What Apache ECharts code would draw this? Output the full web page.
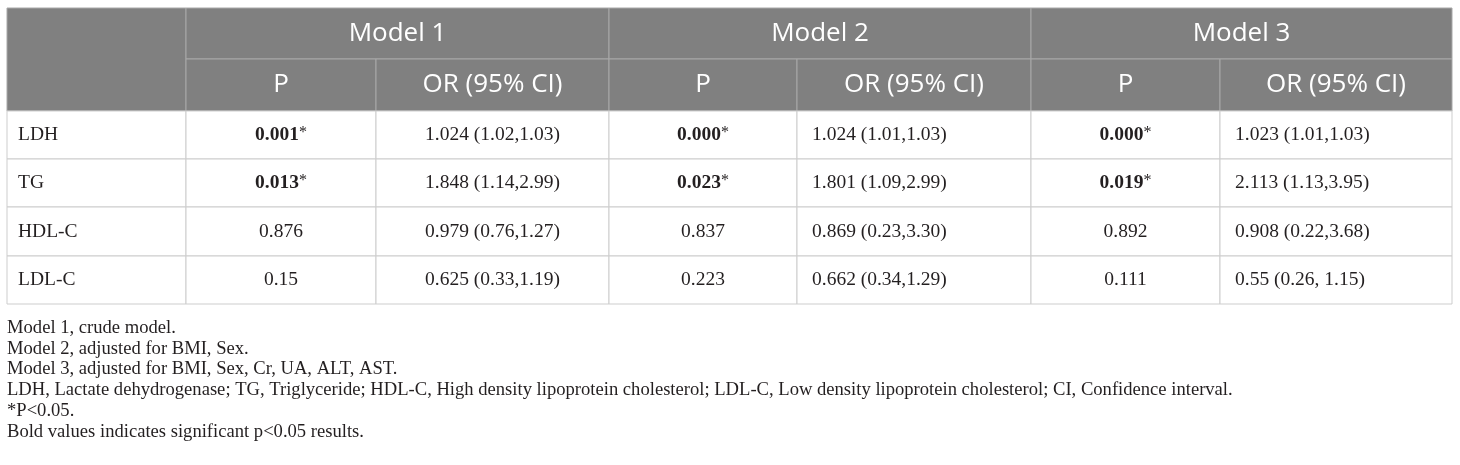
<!DOCTYPE html>
<html>
<head>
<meta charset="utf-8">
<script src="https://cdn.jsdelivr.net/npm/echarts@6/dist/echarts.min.js"></script>
<style>html,body{margin:0;padding:0;background:#fff;}#c{width:1460px;height:465px;}</style>
</head>
<body>
<div id="c"></div>
<script>
// ---- data ----
const rowLabels = ['LDH', 'TG', 'HDL-C', 'LDL-C'];
const modelNames = ['Model 1', 'Model 2', 'Model 3'];
const subHeaders = ['P', 'OR (95% CI)'];
const model1P = ['0.001', '0.013', '0.876', '0.15'];
const model1OR = ['1.024 (1.02,1.03)', '1.848 (1.14,2.99)', '0.979 (0.76,1.27)', '0.625 (0.33,1.19)'];
const model2P = ['0.000', '0.023', '0.837', '0.223'];
const model2OR = ['1.024 (1.01,1.03)', '1.801 (1.09,2.99)', '0.869 (0.23,3.30)', '0.662 (0.34,1.29)'];
const model3P = ['0.000', '0.019', '0.892', '0.111'];
const model3OR = ['1.023 (1.01,1.03)', '2.113 (1.13,3.95)', '0.908 (0.22,3.68)', '0.55 (0.26, 1.15)'];
const footnotes = [
  'Model 1, crude model.',
  'Model 2, adjusted for BMI, Sex.',
  'Model 3, adjusted for BMI, Sex, Cr, UA, ALT, AST.',
  'LDH, Lactate dehydrogenase; TG, Triglyceride; HDL-C, High density lipoprotein cholesterol; LDL-C, Low density lipoprotein cholesterol; CI, Confidence interval.',
  '*P<0.05.',
  'Bold values indicates significant p<0.05 results.'
];

// ---- layout (pixel units on hidden value axes) ----
const colEdges = [7, 186, 376, 609, 797, 1031, 1220, 1452];
const rowEdges = [8, 59, 111, 159, 207, 256, 304];
const orAlign = ['center', 'left', 'left'];
const footTop = 328, footStep = 20.8;
const HEAD_BG = '#808080', HEAD_LINE = '#a8a8a8', GRID = '#cdcdcd';
const SERIF = '"Liberation Serif", "DejaVu Serif", serif';
const SANS = '"Open Sans", "Noto Sans", sans-serif';
const INK = '#231f20';

const pCols = [model1P, model2P, model3P];
const orCols = [model1OR, model2OR, model3OR];

// cells: [c0, c1, r0, r1, text, kind, align]
const cells = [];
cells.push([0, 1, 0, 2, '', 'head', 'center']);
modelNames.forEach((m, i) => {
  cells.push([1 + 2 * i, 3 + 2 * i, 0, 1, m, 'head', 'center']);
  subHeaders.forEach((s, j) => cells.push([1 + 2 * i + j, 2 + 2 * i + j, 1, 2, s, 'head', 'center']));
});
rowLabels.forEach((lab, r) => {
  cells.push([0, 1, 2 + r, 3 + r, lab, 'label', 'left']);
  for (let i = 0; i < 3; i++) {
    const p = pCols[i][r];
    const sig = parseFloat(p) < 0.05;
    cells.push([1 + 2 * i, 2 + 2 * i, 2 + r, 3 + r, p, sig ? 'sig' : 'body', 'center']);
    cells.push([2 + 2 * i, 3 + 2 * i, 2 + r, 3 + r, orCols[i][r], 'body', orAlign[i]]);
  }
});

function renderCell(params, api) {
  const c0 = api.value(0), c1 = api.value(1), r0 = api.value(2), r1 = api.value(3);
  const d = cells[params.dataIndex];
  const text = d[4], kind = d[5], align = d[6];
  const tl = api.coord([colEdges[c0], rowEdges[r0]]);
  const br = api.coord([colEdges[c1], rowEdges[r1]]);
  const x = tl[0], y = tl[1], w = br[0] - tl[0], h = br[1] - tl[1];
  const isHead = kind === 'head';
  const children = [{
    type: 'rect',
    shape: { x: x, y: y, width: w, height: h },
    style: { fill: isHead ? HEAD_BG : '#ffffff', stroke: isHead ? HEAD_LINE : GRID, lineWidth: 1 }
  }];
  if (text) {
    let tx = align === 'left' ? x + (kind === 'label' ? 11 : 15) : x + w / 2;
    const style = {
      x: tx, y: y + h / 2, align: align, verticalAlign: 'middle',
      fill: isHead ? '#ffffff' : INK
    };
    if (isHead) {
      style.text = text;
      style.font = '400 26px ' + SANS;
    } else if (kind === 'sig') {
      style.text = '{b|' + text + '}{s|*}';
      style.rich = {
        b: { font: 'bold 19.5px ' + SERIF, fill: INK },
        s: { font: '16px ' + SERIF, fill: INK, verticalAlign: 'top', padding: [0, 0, 3, 0] }
      };
    } else {
      style.text = text;
      style.font = '19.5px ' + SERIF;
    }
    children.push({ type: 'text', style: style });
  }
  return { type: 'group', children: children };
}

const footData = footnotes.map((t, i) => [7, i]);
function renderFoot(params, api) {
  const i = api.value(1);
  const pt = api.coord([api.value(0), footTop + i * footStep]);
  return {
    type: 'text',
    style: { text: footnotes[params.dataIndex], x: pt[0], y: pt[1], align: 'left', verticalAlign: 'middle',
      font: '18.6px ' + SERIF, fill: INK }
  };
}

const chart = echarts.init(document.getElementById('c'));
chart.setOption({
  animation: false,
  grid: { left: 0, right: 0, top: 0, bottom: 0 },
  xAxis: { type: 'value', min: 0, max: 1460, show: false },
  yAxis: { type: 'value', min: 0, max: 465, inverse: true, show: false },
  series: [
    { type: 'custom', renderItem: renderCell, data: cells.map(c => c.slice(0, 4)), silent: true },
    { type: 'custom', renderItem: renderFoot, data: footData, silent: true }
  ]
});
</script>
</body>
</html>
